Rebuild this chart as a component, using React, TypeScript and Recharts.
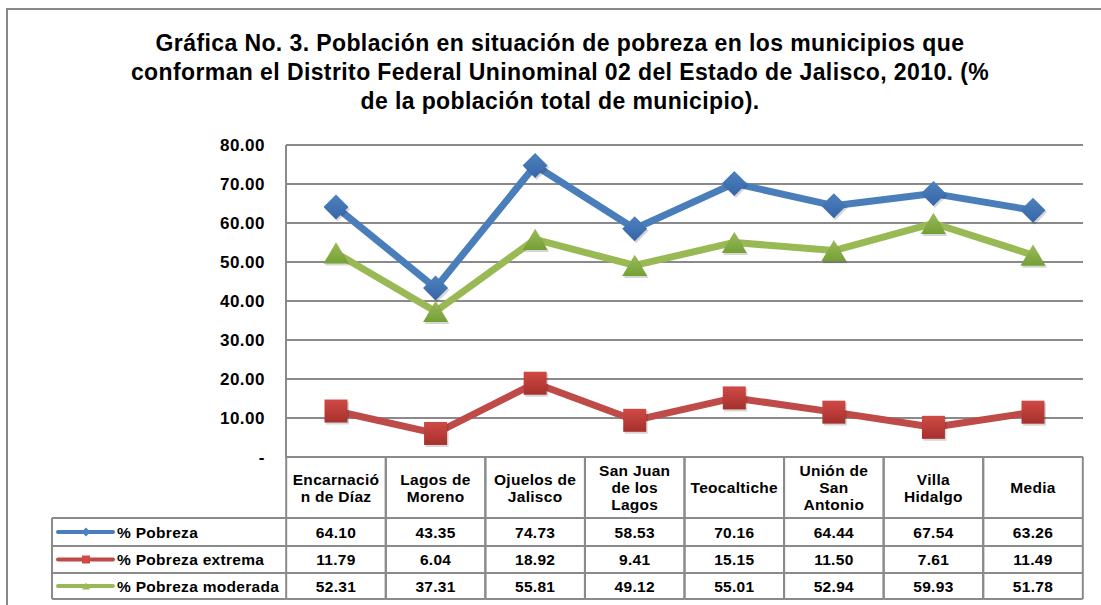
import React from 'react';
import { LineChart, Line, XAxis, YAxis, CartesianGrid } from 'recharts';

const categories = [
  'Encarnación de Díaz',
  'Lagos de Moreno',
  'Ojuelos de Jalisco',
  'San Juan de los Lagos',
  'Teocaltiche',
  'Unión de San Antonio',
  'Villa Hidalgo',
  'Media',
];
const headerLabels = [
  ['Encarnació', 'n de Díaz'],
  ['Lagos de', 'Moreno'],
  ['Ojuelos de', 'Jalisco'],
  ['San Juan', 'de los', 'Lagos'],
  ['Teocaltiche'],
  ['Unión de', 'San', 'Antonio'],
  ['Villa', 'Hidalgo'],
  ['Media'],
];
const pobreza = [64.1, 43.35, 74.73, 58.53, 70.16, 64.44, 67.54, 63.26];
const pobrezaExtrema = [11.79, 6.04, 18.92, 9.41, 15.15, 11.5, 7.61, 11.49];
const pobrezaModerada = [52.31, 37.31, 55.81, 49.12, 55.01, 52.94, 59.93, 51.78];
const seriesNames = ['% Pobreza', '% Pobreza extrema', '% Pobreza moderada'];
const yTicks = [0, 10, 20, 30, 40, 50, 60, 70, 80];
const titleLines = [
  'Gráfica No. 3. Población en situación de pobreza en los municipios que',
  'conforman el Distrito Federal Uninominal 02 del Estado de Jalisco, 2010. (%',
  'de la población total de municipio).',
];

const data = categories.map((name, i) => ({
  name,
  pobreza: pobreza[i],
  extrema: pobrezaExtrema[i],
  moderada: pobrezaModerada[i],
}));

const series = [
  { key: 'pobreza', name: seriesNames[0], values: pobreza, line: '#4A7EBB', fill: '#4F81BD', dark: '#3565A8', shape: 'diamond' },
  { key: 'extrema', name: seriesNames[1], values: pobrezaExtrema, line: '#BE4B48', fill: '#D04A45', dark: '#A5302D', shape: 'square' },
  { key: 'moderada', name: seriesNames[2], values: pobrezaModerada, line: '#98B954', fill: '#9BBB59', dark: '#74A035', shape: 'triangle' },
];

const W = 1101;
const H = 605;
const PLOT_LEFT = 286;
const PLOT_RIGHT_MARGIN = 18;
const PLOT_TOP = 145;
const PLOT_BOTTOM = 457;
const TABLE_LEFT = 52;
const HEADER_BOTTOM = 518;
const ROW_LINES = [518, 546, 573, 599];
const GRID = '#8a8a8a';
const FONT = '"Liberation Sans", Arial, Helvetica, sans-serif';

const shapePath = (shape: string, cx: number, cy: number, s: number) => {
  if (shape === 'diamond') {
    return `M${cx},${cy - s}L${cx + s},${cy}L${cx},${cy + s}L${cx - s},${cy}Z`;
  }
  if (shape === 'square') {
    return `M${cx - s},${cy - s}L${cx + s},${cy - s}L${cx + s},${cy + s}L${cx - s},${cy + s}Z`;
  }
  const h = s * 1.7;
  return `M${cx},${cy - h / 2}L${cx + s},${cy + h / 2}L${cx - s},${cy + h / 2}Z`;
};

const makeDot = (s: any) => (props: any) => {
  const { cx, cy, index } = props;
  if (cx == null || cy == null) return <g key={`${s.key}-${index}`} />;
  const size = s.shape === 'diamond' ? 12.5 : s.shape === 'square' ? 11.5 : 12.5;
  const gid = `grad-${s.key}`;
  return (
    <g key={`${s.key}-${index}`}>
      <defs>
        <linearGradient id={gid} x1="0" y1="0" x2="0" y2="1">
          <stop offset="0%" stopColor={s.fill} />
          <stop offset="100%" stopColor={s.dark} />
        </linearGradient>
      </defs>
      <path d={shapePath(s.shape, cx + 1.5, cy + 2, size)} fill="rgba(0,0,0,0.16)" />
      <path d={shapePath(s.shape, cx, cy, size)} fill={`url(#${gid})`} />
    </g>
  );
};

const YTick = (props: any) => {
  const { y, payload } = props;
  const v = payload.value;
  const label = v === 0 ? '-' : v.toFixed(2);
  return (
    <text
      x={265}
      y={y + 6}
      textAnchor="end"
      fontFamily={FONT}
      fontWeight="bold"
      fontSize={17}
      letterSpacing={0.5}
      fill="#000"
    >
      {label}
    </text>
  );
};

const TableTick = (props: any) => {
  const { x, payload } = props;
  const idx = categories.indexOf(payload.value);
  const colW = (W - PLOT_LEFT - PLOT_RIGHT_MARGIN) / categories.length;
  const l = x - colW / 2;
  const r = x + colW / 2;
  const lines = headerLabels[idx] || [];
  const lh = 17;
  const headerCenter = (PLOT_BOTTOM + HEADER_BOTTOM) / 2;
  const firstBase = headerCenter - ((lines.length - 1) * lh) / 2 + 5.5;
  const txt = {
    fontFamily: FONT,
    fontWeight: 'bold' as const,
    fontSize: 15.5,
    letterSpacing: 0.3,
    fill: '#000',
  };
  const rows = [0, 1, 2].map((k) => (ROW_LINES[k] + ROW_LINES[k + 1]) / 2);
  return (
    <g>
      {idx === 0 && (
        <g>
          {ROW_LINES.map((yy) => (
            <line key={`ll-${yy}`} x1={TABLE_LEFT} x2={l} y1={yy} y2={yy} stroke={GRID} strokeWidth={2} />
          ))}
          <line x1={TABLE_LEFT} x2={TABLE_LEFT} y1={ROW_LINES[0]} y2={ROW_LINES[3]} stroke={GRID} strokeWidth={2} />
          {series.map((s, k) => {
            const cy = rows[k];
            const mx = 86;
            return (
              <g key={`leg-${s.key}`}>
                <line x1={58} x2={113} y1={cy} y2={cy} stroke={s.line} strokeWidth={4} strokeLinecap="round" />
                <path d={shapePath(s.shape, mx, cy, s.shape === 'diamond' ? 4.5 : 4)} fill={s.fill} />
                <text x={117} y={cy + 5.5} textAnchor="start" {...txt}>
                  {s.name}
                </text>
              </g>
            );
          })}
        </g>
      )}
      <line x1={l} x2={l} y1={PLOT_BOTTOM} y2={ROW_LINES[3]} stroke={GRID} strokeWidth={2} />
      <line x1={r} x2={r} y1={PLOT_BOTTOM} y2={ROW_LINES[3]} stroke={GRID} strokeWidth={2} />
      {ROW_LINES.map((yy) => (
        <line key={`rl-${yy}`} x1={l} x2={r} y1={yy} y2={yy} stroke={GRID} strokeWidth={2} />
      ))}
      {lines.map((t, k) => (
        <text key={`h-${k}`} x={x} y={firstBase + k * lh} textAnchor="middle" {...txt}>
          {t}
        </text>
      ))}
      {series.map((s, k) => (
        <text key={`v-${s.key}`} x={x} y={rows[k] + 5.5} textAnchor="middle" {...txt}>
          {s.values[idx].toFixed(2)}
        </text>
      ))}
    </g>
  );
};

export default function App() {
  return (
    <div
      style={{
        position: 'absolute',
        left: 0,
        top: 0,
        width: W,
        height: H,
        overflow: 'hidden',
        background: '#fff',
      }}
    >
      <div
        style={{
          position: 'absolute',
          left: 6,
          top: 8,
          width: 1300,
          height: 800,
          borderTop: '2px solid #888',
          borderLeft: '2px solid #888',
        }}
      />
      <div
        style={{
          position: 'absolute',
          left: 60,
          top: 29,
          width: 1000,
          textAlign: 'center',
          fontFamily: FONT,
          fontWeight: 'bold',
          fontSize: 23,
          lineHeight: '29px',
          letterSpacing: 0.4,
          color: '#000',
        }}
      >
        {titleLines.map((t, i) => (
          <div key={i}>{t}</div>
        ))}
      </div>
      <div style={{ position: 'absolute', left: 0, top: 0 }}>
        <LineChart
          width={W}
          height={H}
          data={data}
          margin={{ top: PLOT_TOP, right: PLOT_RIGHT_MARGIN, left: 0, bottom: 0 }}
        >
          <CartesianGrid horizontal vertical={false} stroke={GRID} strokeWidth={2} />
          <YAxis
            width={PLOT_LEFT}
            domain={[0, 80]}
            ticks={yTicks}
            interval={0}
            tickLine={false}
            axisLine={{ stroke: GRID, strokeWidth: 2 }}
            tick={<YTick />}
          />
          <XAxis
            dataKey="name"
            height={H - PLOT_BOTTOM}
            interval={0}
            padding={{ left: 50, right: 50 }}
            tickLine={false}
            axisLine={{ stroke: GRID, strokeWidth: 2 }}
            tick={<TableTick />}
          />
          {series.map((s) => (
            <Line
              key={s.key}
              dataKey={s.key}
              name={s.name}
              stroke={s.line}
              strokeWidth={7}
              strokeLinejoin="round"
              dot={makeDot(s)}
              activeDot={false}
              isAnimationActive={false}
            />
          ))}
        </LineChart>
      </div>
    </div>
  );
}
